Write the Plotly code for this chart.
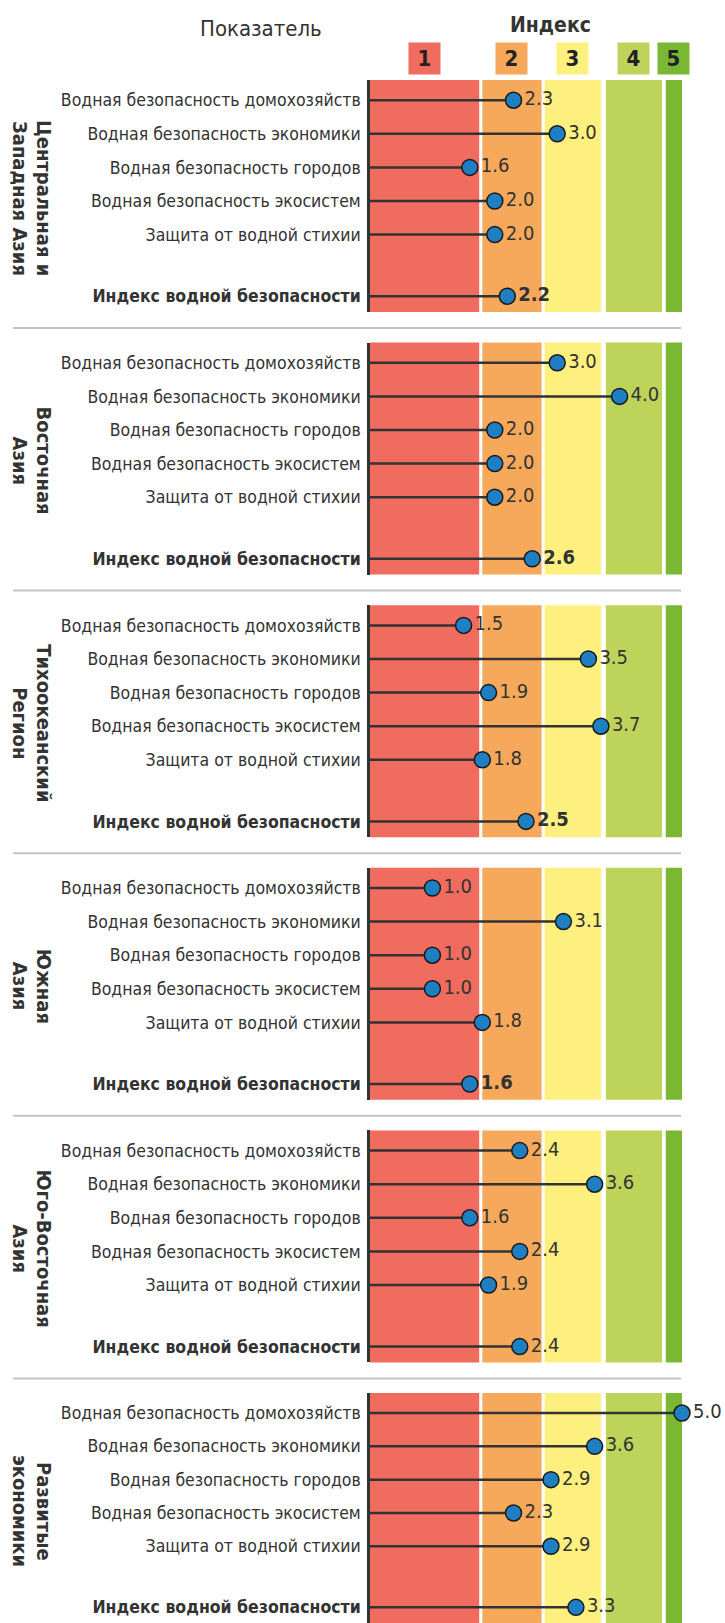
import plotly.graph_objects as go

# ---- data -----------------------------------------------------------------
regions = [
    "Центральная и\nЗападная Азия",
    "Восточная\nАзия",
    "Тихоокеанский\nРегион",
    "Южная\nАзия",
    "Юго-Восточная\nАзия",
    "Развитые\nэкономики",
]
indicators = [
    "Водная безопасность домохозяйств",
    "Водная безопасность экономики",
    "Водная безопасность городов",
    "Водная безопасность экосистем",
    "Защита от водной стихии",
]
index_label = "Индекс водной безопасности"

# five indicators followed by the overall index, per region
central_west_asia = [2.3, 3.0, 1.6, 2.0, 2.0, 2.2]
east_asia = [3.0, 4.0, 2.0, 2.0, 2.0, 2.6]
pacific = [1.5, 3.5, 1.9, 3.7, 1.8, 2.5]
south_asia = [1.0, 3.1, 1.0, 1.0, 1.8, 1.6]
southeast_asia = [2.4, 3.6, 1.6, 2.4, 1.9, 2.4]
developed = [5.0, 3.6, 2.9, 2.3, 2.9, 3.3]
panel_values = [central_west_asia, east_asia, pacific, south_asia, southeast_asia, developed]
index_bold = [True, True, True, True, False, False]

levels = ["1", "2", "3", "4", "5"]
level_edges = [(0.0, 1.75), (1.8, 2.75), (2.8, 3.7), (3.78, 4.68), (4.74, 5.0)]

# ---- styling / geometry ---------------------------------------------------
level_colors = ["#EF6C5E", "#F6A95B", "#FEF07E", "#BED35A", "#7AB833"]
W, H = 725, 1623
L, R = 370, 682
X_RANGE = [0, 5]
FONT = "DejaVu Sans Condensed, DejaVu Sans, sans-serif"
TXT = "#333333"

PANEL_TOP, PANEL_PITCH, PANEL_H = 80, 262.6, 232
ROW_OFFSET, ROW_STEP, INDEX_OFFSET = 20.2, 33.6, 216.2


def py(p):
    return 1 - p / H


def px(p):
    return (p - L) / (R - L)


row_pos = [0, 1, 2, 3, 4, (INDEX_OFFSET - ROW_OFFSET) / ROW_STEP]
y_range = [(PANEL_H - ROW_OFFSET) / ROW_STEP, -ROW_OFFSET / ROW_STEP]

fig = go.Figure()
layout_axes = {}
shapes = []
annotations = []

for k, vals in enumerate(panel_values):
    ya = "y" if k == 0 else f"y{k + 1}"
    axname = "yaxis" if k == 0 else f"yaxis{k + 1}"
    top = PANEL_TOP + k * PANEL_PITCH
    bottom = top + PANEL_H

    # stems from the axis to each value
    sx, sy = [], []
    for v, r in zip(vals, row_pos):
        sx += [X_RANGE[0], v, None]
        sy += [r, r, None]
    fig.add_trace(go.Scatter(
        x=sx, y=sy, mode="lines", xaxis="x", yaxis=ya,
        line=dict(color="#333333", width=2.5), hoverinfo="skip", showlegend=False,
    ))

    labels = [f"{v:.1f}" for v in vals]
    if index_bold[k]:
        labels[-1] = f"<b>{labels[-1]}</b>"
    fig.add_trace(go.Scatter(
        x=vals, y=row_pos, mode="markers+text", xaxis="x", yaxis=ya,
        text=labels, textposition="middle right", cliponaxis=False,
        textfont=dict(family=FONT, size=20, color=TXT),
        marker=dict(size=16, color="#1F7FC3", line=dict(color="#1a1a1a", width=1.5)),
        showlegend=False,
    ))

    layout_axes[axname] = dict(
        domain=[max(0, py(bottom)), py(top)], anchor="x",
        range=y_range, tickvals=row_pos,
        ticktext=indicators + [f"<b>{index_label}</b>"],
        tickfont=dict(family=FONT, size=17.5, color=TXT),
        ticks="", ticklabelstandoff=3,
        showgrid=False, zeroline=False,
        showline=True, linecolor="#333333", linewidth=2.5,
        fixedrange=True,
    )

    # coloured index bands
    for (x0, x1), col in zip(level_edges, level_colors):
        shapes.append(dict(
            type="rect", xref="x", yref=f"{ya} domain",
            x0=x0, x1=x1, y0=0, y1=1, fillcolor=col, line_width=0, layer="below",
        ))

    # region name, rotated, two lines
    first, second = regions[k].split("\n")
    cy = py(top + PANEL_H / 2 + 2)
    for line, cx in ((first, 44), (second, 20)):
        annotations.append(dict(
            text=f"<b>{line}</b>", xref="paper", yref="paper", x=px(cx), y=cy,
            xanchor="center", yanchor="middle", textangle=90, showarrow=False,
            font=dict(family=FONT, size=20, color=TXT),
        ))

    # separator below the panel
    if k < len(panel_values) - 1:
        sep = top + PANEL_H + 16
        shapes.append(dict(
            type="line", xref="paper", yref="paper",
            x0=px(13), x1=px(681), y0=py(sep), y1=py(sep),
            line=dict(color="#C4C4C4", width=2),
        ))

# header
annotations.append(dict(
    text="Показатель", xref="paper", yref="paper", x=px(261), y=py(28),
    xanchor="center", yanchor="middle", showarrow=False,
    font=dict(family=FONT, size=22, color=TXT),
))
annotations.append(dict(
    text="<b>Индекс</b>", xref="paper", yref="paper", x=px(550), y=py(25),
    xanchor="center", yanchor="middle", showarrow=False,
    font=dict(family=FONT, size=21, color=TXT),
))
for lvl, (x0, x1), col in zip(levels, level_edges, level_colors):
    annotations.append(dict(
        text=f"<b>{lvl}</b>", xref="x", yref="paper", x=(x0 + x1) / 2, y=py(58),
        xanchor="center", yanchor="middle", showarrow=False,
        width=31, height=31, bgcolor=col, borderpad=0,
        font=dict(family=FONT, size=22, color="#222222"),
    ))

fig.update_layout(
    width=W, height=H,
    margin=dict(l=L, r=W - R, t=0, b=0),
    paper_bgcolor="white", plot_bgcolor="white",
    xaxis=dict(range=X_RANGE, visible=False, domain=[0, 1], anchor="y", fixedrange=True),
    shapes=shapes, annotations=annotations,
    showlegend=False,
    **layout_axes,
)

fig.write_html("out.html")
